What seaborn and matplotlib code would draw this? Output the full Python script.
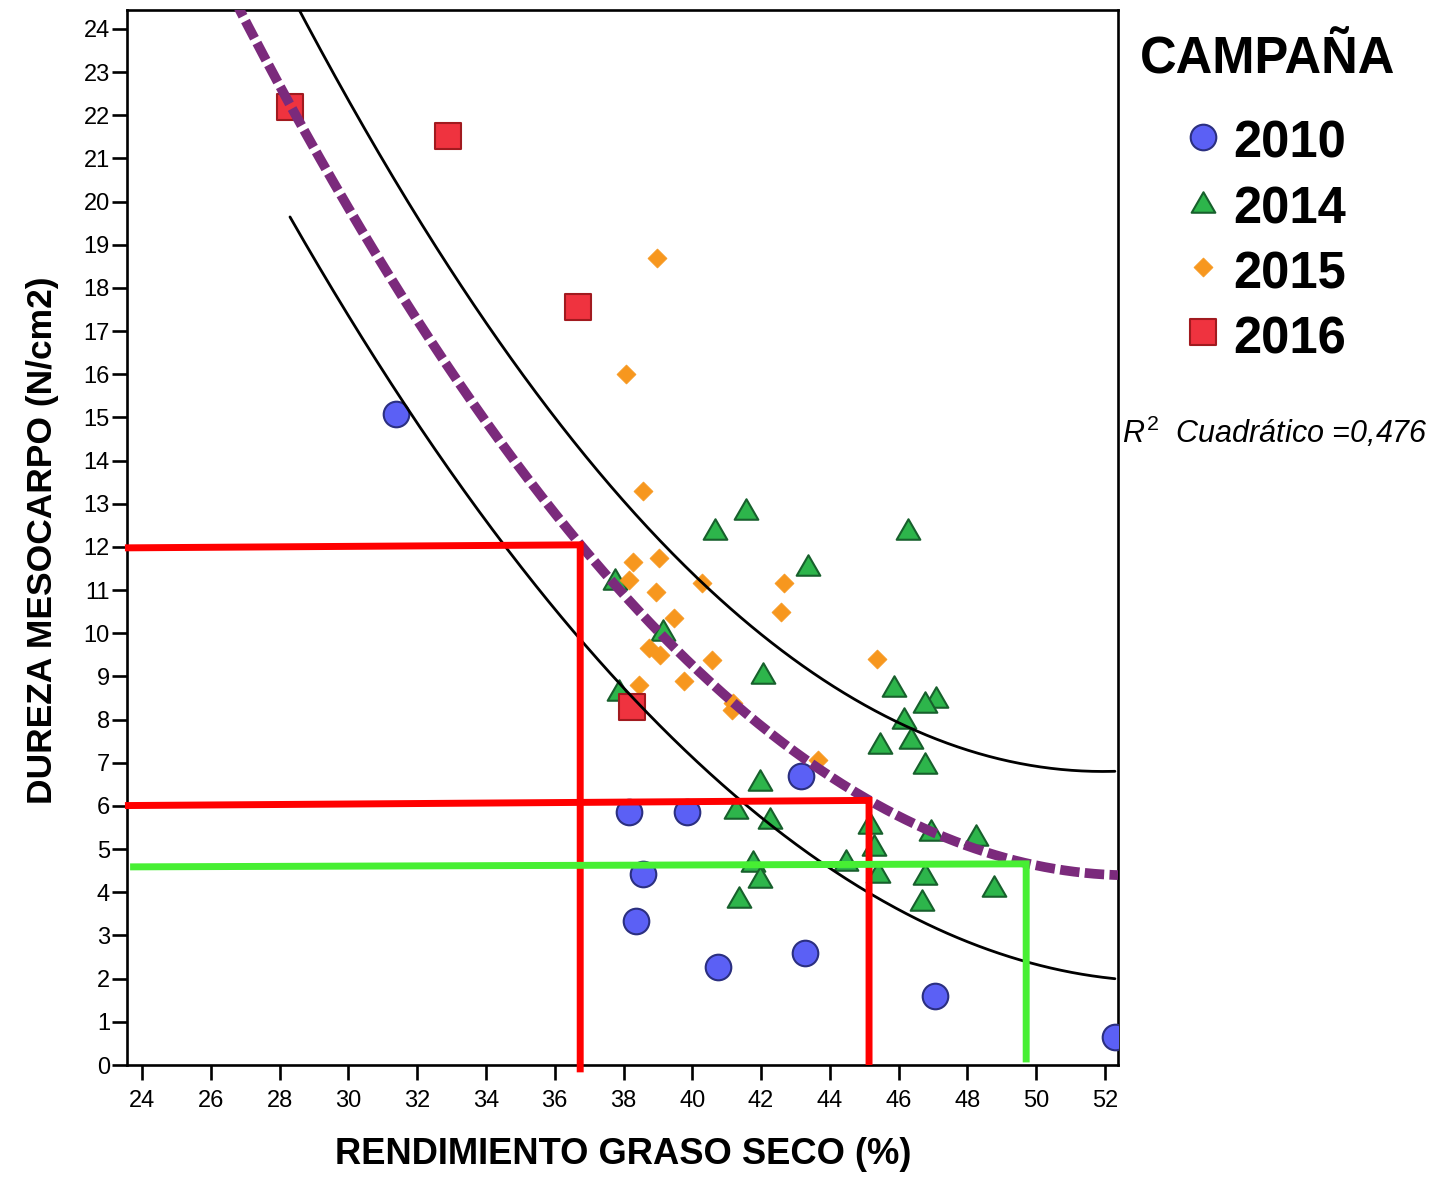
import numpy as np
import pandas as pd
import matplotlib
matplotlib.use("Agg")
import matplotlib.pyplot as plt
from matplotlib.path import Path
import seaborn as sns

# ---- observations: fat yield (x) vs mesocarp hardness (y) per campaign ----
x_2010 = [31.38, 38.17, 39.86, 38.58, 38.35, 40.76, 43.29, 43.17, 47.06, 52.29]
y_2010 = [15.08, 5.86, 5.86, 4.42, 3.34, 2.27, 2.59, 6.69, 1.60, 0.65]

x_2014 = [41.57, 40.67, 46.27, 43.37, 37.75, 39.14, 42.07, 37.86, 45.87, 47.08,
          46.76, 46.17, 46.35, 45.46, 46.77, 41.97, 41.28, 42.27, 45.17, 46.93,
          48.26, 45.28, 41.76, 44.48, 41.96, 45.40, 46.77, 48.77, 41.37, 46.67]
y_2014 = [12.87, 12.41, 12.41, 11.58, 11.27, 10.08, 9.09, 8.69, 8.78, 8.52,
          8.42, 8.03, 7.57, 7.45, 6.99, 6.60, 5.95, 5.72, 5.60, 5.45,
          5.33, 5.10, 4.73, 4.75, 4.36, 4.47, 4.43, 4.15, 3.89, 3.82]

x_2015 = [38.96, 38.06, 38.56, 38.27, 38.17, 39.04, 38.95, 40.27, 39.48, 42.68,
          42.57, 38.75, 39.07, 40.57, 38.46, 39.77, 41.17, 41.16, 43.67, 45.37]
y_2015 = [18.69, 16.01, 13.30, 11.66, 11.23, 11.74, 10.95, 11.17, 10.36, 11.16,
          10.50, 9.65, 9.50, 9.38, 8.80, 8.89, 8.38, 8.22, 7.07, 9.40]

x_2016 = [28.30, 32.89, 36.67, 38.26]
y_2016 = [22.19, 21.52, 17.57, 8.29]

campaigns = ["2010", "2014", "2015", "2016"]

# quadratic fit y = c2*x^2 + c1*x + c0 and its interval half-width parameters
fit_coeffs = [0.02978, -3.1438, 87.365]
r2_value = "0,476"
band_half_width = 2.12
band_center = 42.0
band_spread = 19.3

# hand-drawn reading guides (x, y)
guide_a_x = [23.50, 36.74, 36.74]
guide_a_y = [11.98, 12.05, -0.17]
guide_b_x = [23.50, 45.14, 45.14]
guide_b_y = [6.01, 6.13, 0.0]
guide_c_x = [23.65, 49.71, 49.71]
guide_c_y = [4.59, 4.66, 0.06]

x_ticks = list(range(24, 53, 2))
y_ticks = list(range(0, 25))

df = pd.concat([
    pd.DataFrame({"CAMPAÑA": c, "rend": xs, "dureza": ys})
    for c, xs, ys in zip(campaigns, [x_2010, x_2014, x_2015, x_2016],
                         [y_2010, y_2014, y_2015, y_2016])
], ignore_index=True)

# ---- styling ----
sns.set_style("ticks")
plt.rcParams["font.family"] = ["Liberation Sans", "DejaVu Sans"]
plt.rcParams["text.color"] = "black"
plt.rcParams["axes.labelcolor"] = "black"
plt.rcParams["xtick.color"] = "black"
plt.rcParams["ytick.color"] = "black"
plt.rcParams["mathtext.fontset"] = "custom"
plt.rcParams["mathtext.rm"] = "Liberation Sans"
plt.rcParams["mathtext.it"] = "Liberation Sans:italic"
plt.rcParams["mathtext.bf"] = "Liberation Sans:bold"

triangle = Path([(-1.0, -0.866), (1.0, -0.866), (0.0, 0.866), (-1.0, -0.866)],
                [Path.MOVETO, Path.LINETO, Path.LINETO, Path.CLOSEPOLY])

styles = {
    "2010": dict(marker="o", s=340, color="#5B60F5", edgecolor="#2B2F80", linewidth=1.5),
    "2014": dict(marker=triangle, s=290, color="#2DB54B", edgecolor="#17602C", linewidth=1.5),
    "2015": dict(marker="D", s=94, color="#F7971E", edgecolor="#F7971E", linewidth=0.5),
    "2016": dict(marker="s", s=340, color="#EF333F", edgecolor="#A11A1F", linewidth=1.5),
}

W, H = 1435, 1181
fig = plt.figure(figsize=(W / 100, H / 100), dpi=100)
ax = fig.add_axes([127 / W, 1 - 1065 / H, (1118 - 127) / W, (1065 - 10) / H])

xlim = (23.56, 52.38)
ylim = (0.0, 24.44)

handles = []
for camp in campaigns:
    sub = df[df["CAMPAÑA"] == camp]
    sns.scatterplot(data=sub, x="rend", y="dureza", ax=ax, zorder=3,
                    legend=False, **styles[camp])
    ax.collections[-1].set_label(camp)
    handles.append(ax.collections[-1])

# interval bands over the observed range
x_min, x_max = df["rend"].min(), df["rend"].max()
xb = np.linspace(x_min, x_max, 400)
fb = np.polyval(fit_coeffs, xb)
hw = band_half_width * np.sqrt(1 + ((xb - band_center) / band_spread) ** 2)
sns.lineplot(x=xb, y=fb + hw, ax=ax, color="black", lw=2.0, sort=False, zorder=4)
sns.lineplot(x=xb, y=fb - hw, ax=ax, color="black", lw=2.0, sort=False, zorder=4)

# quadratic fit line
xf = np.linspace(xlim[0], xlim[1], 500)
sns.lineplot(x=xf, y=np.polyval(fit_coeffs, xf), ax=ax, color="#7B2A7C", lw=7.0,
             linestyle=(0, (2.0, 0.55)), dash_capstyle="butt", sort=False, zorder=5)

# reading guides
for gx, gy, col in [(guide_a_x, guide_a_y, "#FF0000"),
                    (guide_b_x, guide_b_y, "#FF0000"),
                    (guide_c_x, guide_c_y, "#47EF33")]:
    ax.plot(gx, gy, color=col, lw=5.0, solid_joinstyle="miter",
            solid_capstyle="butt", clip_on=False, zorder=6)

ax.set_xlim(*xlim)
ax.set_ylim(*ylim)
ax.set_xticks(x_ticks)
ax.set_yticks(y_ticks)
ax.tick_params(axis="both", direction="out", length=10.8, width=1.9,
               labelsize=17, colors="black")
ax.tick_params(axis="y", pad=1.5)
ax.tick_params(axis="x", pad=7)
for sp in ax.spines.values():
    sp.set_visible(True)
    sp.set_linewidth(1.9)
    sp.set_color("black")

ax.set_xlabel("RENDIMIENTO GRASO SECO (%)", fontsize=26.2, fontweight="bold",
              va="center", color="black")
ax.xaxis.set_label_coords(0.5005, (1065 - 1155) / 1055)
ax.set_ylabel("DUREZA MESOCARPO (N/cm2)", fontsize=25.5, fontweight="bold",
              va="center", color="black")
ax.yaxis.set_label_coords((43 - 127) / 991, (1065 - 540) / 1055)

# legend: title drawn as its own heading, entries below it
fig.text(1140 / W, 1 - 74 / H, "CAMPAÑA", fontsize=36.5, fontweight="bold",
         ha="left", va="baseline", color="black")
leg = ax.legend(handles, campaigns, loc="upper left",
                bbox_to_anchor=(1188 / W, 1 - 120 / H), bbox_transform=fig.transFigure,
                frameon=False, prop={"weight": "bold", "size": 36.5},
                handlelength=0.6, handletextpad=0.3, labelspacing=0.316,
                borderpad=0, borderaxespad=0, scatterpoints=1,
                scatteryoffsets=[0.6])

fig.text(1122 / W, 1 - 432 / H, r"$R^2$  Cuadrático =" + r2_value,
         fontsize=22, style="italic", ha="left", va="center", color="black")

fig.savefig("out.png", dpi=100, facecolor="white")
